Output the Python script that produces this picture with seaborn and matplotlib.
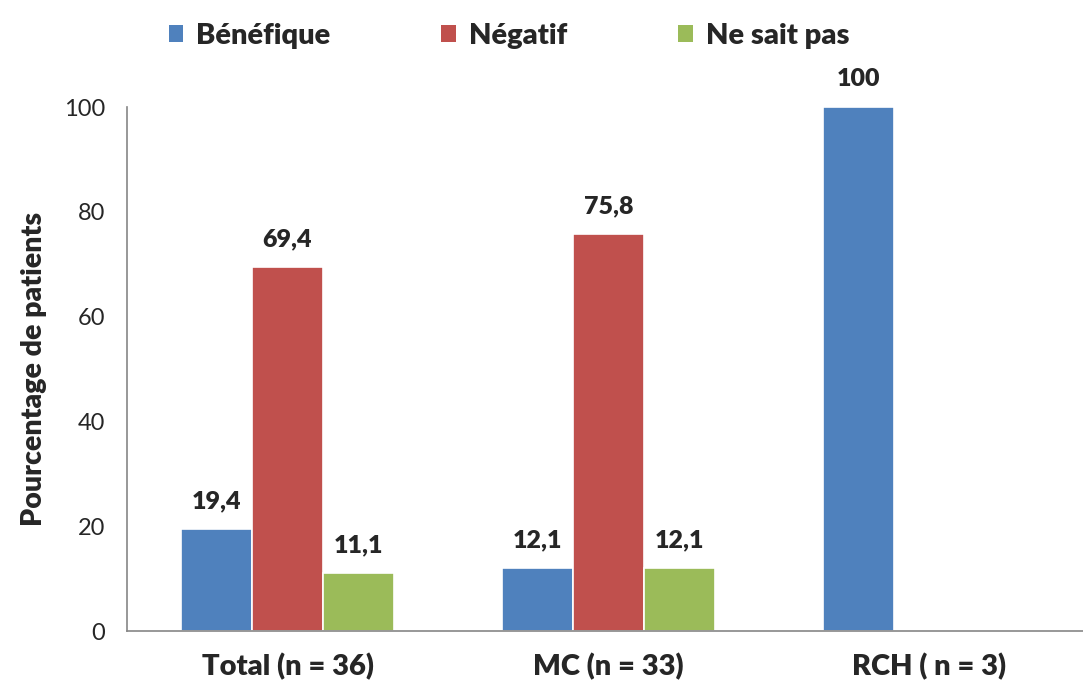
import matplotlib
matplotlib.use("Agg")
from matplotlib import pyplot as plt
from matplotlib.patches import Patch
import pandas as pd
import seaborn as sns

categories = ["Total (n = 36)", "MC (n = 33)", "RCH ( n = 3)"]
series = ["Bénéfique", "Négatif", "Ne sait pas"]
benefique = [19.4, 12.1, 100]
negatif = [69.4, 75.8, 0]
ne_sait_pas = [11.1, 12.1, 0]
colors = ["#4F81BD", "#C0504D", "#9BBB59"]

df = pd.DataFrame({
    "groupe": categories * 3,
    "avis": [s for s in series for _ in categories],
    "pct": benefique + negatif + ne_sait_pas,
})

sns.set_style("white")
plt.rcParams["font.family"] = ["Lato", "DejaVu Sans"]

fig = plt.figure(figsize=(10.83, 6.91), dpi=100)
ax = fig.add_axes([127 / 1083, 60 / 691, 963 / 1083, 524 / 691])

sns.barplot(data=df, x="groupe", y="pct", hue="avis", hue_order=series,
            order=categories, palette=colors, saturation=1, width=0.662,
            gap=0.0, edgecolor="white", linewidth=1.2, legend=False, ax=ax)

# Data labels, skip the empty bars
for cont in ax.containers:
    for bar in cont:
        h = bar.get_height()
        if h <= 0:
            continue
        txt = f"{h:.1f}".replace(".", ",") if h != int(h) else f"{int(h)}"
        ax.annotate(txt, (bar.get_x() + bar.get_width() / 2, h),
                    xytext=(0, 20), textcoords="offset points",
                    ha="center", va="center", fontsize=18, fontweight="heavy")

ax.set_xlim(-0.5, 2.5)
ax.set_ylim(0, 100)
ax.set_yticks([0, 20, 40, 60, 80, 100])
ax.tick_params(axis="y", labelsize=17, length=5, color="#868686", width=1, pad=11)
ax.set_xticks([0, 1, 2])
ax.set_xticklabels(categories, fontsize=21, fontweight="heavy")
ax.tick_params(axis="x", length=0, pad=16)
# category separator ticks
ax.set_xticks([-0.5, 0.5, 1.5, 2.5], minor=True)
ax.tick_params(axis="x", which="minor", length=10, color="#868686", width=1)

for side in ["top", "right"]:
    ax.spines[side].set_visible(False)
for side in ["left", "bottom"]:
    ax.spines[side].set_color("#868686")
    ax.spines[side].set_linewidth(1.2)

ax.set_xlabel("")
ax.set_ylabel("Pourcentage de patients", fontsize=20.5, fontweight="heavy",
              labelpad=12)

handles = [Patch(facecolor=c, edgecolor="none") for c in colors]
fig.legend(handles, series, loc="upper center", bbox_to_anchor=(0.47, 1.005),
           ncol=3, frameon=False, prop={"weight": "heavy", "size": 21},
           handlelength=0.5, handleheight=0.5, handletextpad=0.45,
           columnspacing=3.8)

fig.savefig("out.png", dpi=100)
